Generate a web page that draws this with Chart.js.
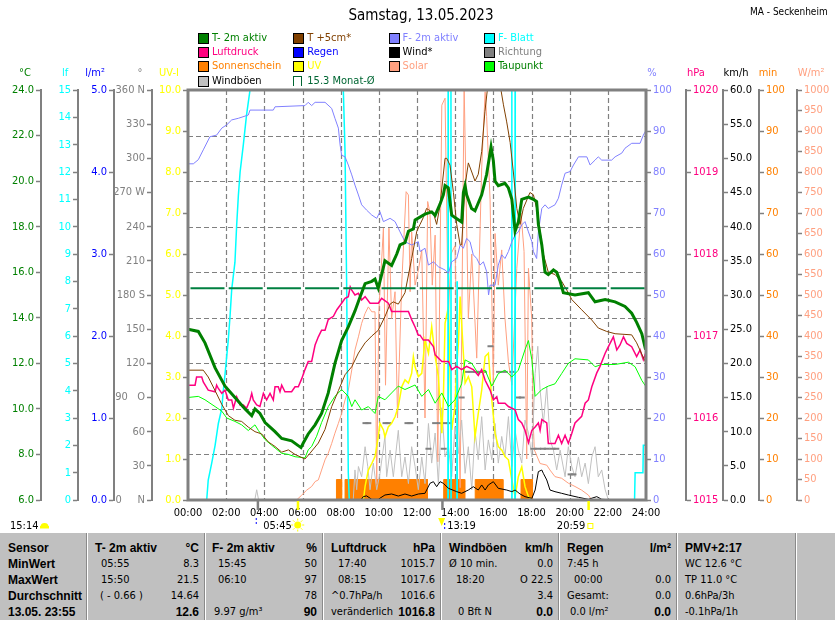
<!DOCTYPE html>
<html><head><meta charset="utf-8">
<title>Samstag, 13.05.2023</title>
<script src="https://cdn.jsdelivr.net/npm/chart.js@4.4.1/dist/chart.umd.min.js"></script>
<style>
html,body{margin:0;padding:0;background:#fff;}
body{width:835px;height:620px;position:relative;overflow:hidden;}
#c{position:absolute;left:0;top:0;}
.a{position:absolute;white-space:nowrap;line-height:14px;height:14px;}
.box{position:absolute;width:9px;height:9px;border:1px solid #000;}
#tbl{position:absolute;left:0;top:533px;width:835px;height:87px;background:#c0c0c0;}
.sep{position:absolute;top:0;height:87px;width:1px;background:#fff;border-left:1px solid #8a8a8a;}
</style></head><body>
<canvas id="c" width="835" height="533"></canvas>
<div id="ov"></div>
<div id="tbl"></div>
<script>
// ---------------- DATA (hour of day, value) ----------------
const xTickValues = [0,2,4,6,8,10,12,14,16,18,20,22,24];
const xTickLabels = ['00:00','02:00','04:00','06:00','08:00','10:00','12:00','14:00','16:00','18:00','20:00','22:00','24:00'];
const dirTickLabels = {0:'0     N',90:'90   O',180:'180 S',270:'270 W',360:'360 N'};

const t2m = [[0,13.5],[0.54,13.4],[0.89,12.9],[1.42,11.8],[1.94,11.0],[2.46,10.5],[2.99,10.0],[3.34,9.7],[3.51,10.0],[3.77,9.8],[4.04,9.4],[4.56,9.0],[4.91,8.7],[5.43,8.6],[5.92,8.3],[6.04,8.5],[6.3,8.9],[6.66,9.3],[7.0,9.8],[7.35,10.7],[7.7,12.0],[8.05,13.0],[8.4,13.6],[8.75,14.3],[9.01,14.9],[9.28,15.5],[9.63,15.6],[9.8,15.7],[9.97,15.3],[10.15,15.9],[10.32,16.5],[10.67,16.3],[10.94,16.8],[11.11,17.2],[11.37,17.3],[11.55,17.8],[11.81,17.9],[11.9,18.3],[12.42,18.55],[12.77,18.65],[12.95,18.5],[13.21,19.0],[13.38,19.4],[13.47,19.8],[13.64,19.7],[13.82,18.5],[13.99,18.4],[14.34,18.2],[14.43,19.5],[14.52,19.8],[14.6,19.4],[14.86,18.8],[15.04,18.7],[15.39,19.4],[15.65,20.3],[15.88,21.5],[16.0,20.9],[16.09,20.0],[16.26,19.8],[16.61,19.9],[16.79,19.7],[16.97,19.2],[17.14,17.8],[17.31,18.2],[17.49,19.2],[17.84,19.3],[18.1,19.2],[18.27,19.1],[18.36,18.1],[18.54,17.2],[18.71,16.0],[18.88,15.9],[19.15,16.1],[19.32,16.0],[19.5,15.6],[19.67,15.1],[20.28,15.0],[20.98,15.1],[21.33,14.7],[21.86,14.8],[22.38,14.7],[22.9,14.5],[23.25,14.2],[23.51,13.8],[23.78,13.3],[23.98,12.6]];

const t5cm = [[0,11.7],[0.8,11.7],[1.06,11.4],[1.42,10.8],[1.77,10.2],[2.12,9.7],[2.46,9.5],[2.81,9.45],[3.16,9.2],[3.51,9.0],[3.86,8.9],[4.21,8.55],[4.56,8.35],[4.91,8.1],[5.26,8.2],[5.61,8.0],[6.13,7.8],[6.39,8.05],[6.83,8.5],[7.18,9.1],[7.53,10.1],[7.88,10.8],[8.23,11.5],[8.58,11.85],[8.93,12.45],[9.28,12.9],[9.63,13.2],[9.97,13.45],[10.32,14.05],[10.59,14.6],[10.76,14.7],[11.02,14.6],[11.37,15.1],[11.72,16.6],[11.99,17.8],[12.16,18.1],[12.33,18.4],[12.5,18.8],[12.86,18.6],[13.03,18.1],[13.2,18.9],[13.47,21.0],[13.56,21.0],[13.73,20.7],[13.91,19.5],[14.08,18.1],[14.26,17.2],[14.34,17.2],[14.52,19.8],[14.69,20.8],[14.87,20.4],[15.04,20.0],[15.21,20.3],[15.39,21.3],[15.56,23.05],[15.75,24.5],[16.3,24.5],[16.53,23.35],[16.7,22.6],[16.88,21.7],[17.05,20.4],[17.23,18.8],[17.4,18.1],[17.57,18.8],[17.92,19.5],[18.1,19.4],[18.27,18.8],[18.45,17.8],[18.62,16.8],[18.88,16.0],[19.23,15.9],[19.58,15.6],[19.93,15.1],[20.11,14.8],[20.63,14.35],[21.16,13.9],[21.5,13.55],[21.94,13.4],[22.38,13.3],[23.25,13.25],[23.51,12.9],[23.78,12.4],[23.98,12.05]];

const dewPoint = [[0,10.5],[0.54,10.55],[0.89,10.4],[1.42,10.1],[1.77,9.9],[2.03,9.6],[2.46,9.45],[2.81,9.3],[3.16,9.05],[3.51,9.3],[3.69,9.05],[4.04,8.65],[4.39,8.4],[4.91,8.05],[5.26,8.0],[5.61,7.9],[6.13,7.85],[6.3,8.2],[6.48,8.35],[6.74,8.8],[7.0,9.4],[7.35,10.1],[7.7,10.55],[8.05,10.85],[8.4,10.55],[8.58,10.1],[8.75,10.4],[9.1,9.95],[9.45,10.1],[9.8,9.8],[9.97,10.55],[10.32,10.4],[10.67,10.7],[11.02,11.0],[11.37,10.85],[11.9,11.05],[12.25,10.55],[12.6,10.85],[12.95,10.25],[13.3,10.7],[13.65,10.1],[13.99,10.4],[14.34,11.1],[14.52,12.15],[14.87,12.0],[15.21,11.55],[15.57,11.7],[15.92,11.0],[16.26,11.55],[16.61,11.7],[16.97,11.4],[17.31,11.7],[17.66,12.6],[17.84,13.0],[18.02,12.15],[18.19,10.55],[18.54,10.85],[18.88,11.0],[19.23,11.1],[19.58,11.55],[19.93,12.0],[20.28,12.2],[20.98,12.15],[21.33,11.85],[21.68,11.95],[22.38,11.95],[23.08,12.05],[23.43,11.85],[23.78,11.25],[23.98,11.0]];

const humidity = [[0,82],[0.28,82],[0.54,83],[0.8,85.4],[1.15,88.6],[1.5,89],[1.77,90.7],[2.03,91.5],[2.29,92.7],[2.64,93.1],[3.16,93.9],[3.25,95.1],[4.47,95.1],[4.56,95.9],[6.13,96.2],[6.3,97],[6.48,96.2],[6.66,97],[7.18,97],[7.53,95.5],[7.7,93.1],[7.88,90.7],[7.97,86.6],[8.05,84.1],[8.23,83.7],[8.4,81.7],[8.58,79.3],[8.75,76.8],[8.93,74.4],[9.1,72],[9.36,70.7],[9.63,69.5],[9.89,68.7],[10.06,70.3],[10.24,67.9],[10.59,68.7],[10.85,67.9],[11.11,65.4],[11.37,63],[11.72,62.2],[12.07,63],[12.16,60.6],[12.42,61.4],[12.6,57.3],[12.86,58.1],[13.12,56.9],[13.47,56.1],[13.65,55.3],[13.82,58.1],[14.08,58.9],[14.26,62.2],[14.43,61.4],[14.6,63.8],[14.78,63],[14.95,59.8],[15.13,58.9],[15.3,57.3],[15.48,58.1],[15.65,55.7],[15.75,50],[15.83,52.4],[16.09,52.4],[16.26,57.3],[16.44,59.8],[16.61,58.9],[16.79,60.6],[16.97,63],[17.14,64.6],[17.31,65.4],[17.49,67.1],[17.66,67.9],[17.84,65.4],[18.02,63],[18.1,60.6],[18.27,58.9],[18.36,65.4],[18.54,71.1],[18.71,72],[18.88,71.1],[19.23,72],[19.41,73.6],[19.58,76.8],[19.76,79.7],[20.02,80.1],[20.2,81.7],[20.46,83.7],[20.9,83.7],[21.07,81.7],[21.33,82.9],[21.5,83.7],[21.68,82.9],[22.2,82.9],[22.38,83.7],[22.73,84.6],[22.9,85.8],[23.25,87],[23.69,87],[23.86,89],[23.98,90]];

const leafWet = [[0,0],[0.98,0],[1.06,0.73],[1.24,1.34],[1.42,2.0],[1.59,2.8],[1.77,3.35],[1.85,4.0],[1.94,4.6],[2.11,5.85],[2.2,6.7],[2.29,7.7],[2.46,8.7],[2.55,10.05],[2.64,11.15],[2.73,12.0],[2.9,13.0],[3.07,14.1],[3.25,15],[8.14,15],[8.23,12.7],[8.31,8.1],[8.4,1.0],[8.45,0],[13.62,0],[13.63,15],[13.64,0],[13.77,0],[13.78,15],[13.79,0],[14.09,0],[14.1,8],[14.11,0],[16.96,0],[16.97,15],[16.98,0],[17.13,0],[17.14,15],[17.15,0],[23.4,0],[23.43,1.0],[23.84,1.0],[23.86,2.0],[24,2.0]];

const pressure = [[0,1016.4],[0.37,1016.4],[0.45,1016.5],[0.72,1016.5],[0.8,1016.44],[1.06,1016.34],[1.42,1016.32],[1.5,1016.4],[1.59,1016.36],[1.77,1016.3],[1.94,1016.34],[2.11,1016.22],[2.29,1016.22],[2.38,1016.12],[2.55,1016.26],[2.73,1016.16],[2.9,1016.16],[3.07,1016.12],[3.25,1016.22],[3.34,1016.3],[3.42,1016.22],[3.6,1016.16],[3.77,1016.14],[3.95,1016.3],[4.12,1016.22],[4.3,1016.3],[4.47,1016.22],[4.56,1016.38],[4.73,1016.38],[4.82,1016.32],[4.91,1016.4],[5.08,1016.32],[5.43,1016.32],[5.61,1016.38],[5.78,1016.38],[5.96,1016.48],[6.13,1016.59],[6.3,1016.69],[6.48,1016.69],[6.66,1016.89],[6.83,1016.99],[7.0,1017.07],[7.18,1017.07],[7.35,1017.2],[7.62,1017.24],[7.8,1017.32],[8.05,1017.4],[8.23,1017.46],[8.4,1017.48],[8.5,1017.6],[8.58,1017.56],[8.75,1017.5],[8.93,1017.52],[9.1,1017.44],[9.28,1017.48],[9.54,1017.4],[9.97,1017.4],[10.15,1017.46],[10.5,1017.4],[10.67,1017.3],[11.55,1017.3],[11.72,1017.2],[11.9,1017.11],[12.07,1017.01],[12.16,1017.01],[12.33,1016.95],[12.6,1016.95],[12.86,1016.87],[12.95,1016.77],[13.3,1016.69],[13.65,1016.69],[13.82,1016.59],[14.08,1016.63],[14.34,1016.59],[14.6,1016.63],[14.95,1016.59],[15.21,1016.52],[15.39,1016.59],[15.57,1016.46],[15.83,1016.34],[16.0,1016.22],[16.18,1016.26],[16.26,1016.18],[16.61,1016.18],[16.79,1016.14],[17.14,1016.1],[17.31,1015.98],[17.49,1015.94],[17.66,1015.85],[17.84,1015.7],[18.02,1015.85],[18.19,1015.89],[18.36,1015.94],[18.45,1015.85],[18.54,1015.98],[18.8,1015.94],[18.88,1015.69],[19.23,1015.69],[19.41,1015.79],[19.58,1015.69],[19.76,1015.79],[19.93,1015.69],[20.11,1015.81],[20.28,1015.94],[20.63,1016.02],[20.81,1016.18],[20.98,1016.22],[21.16,1016.38],[21.42,1016.55],[21.59,1016.63],[21.86,1016.79],[22.03,1016.87],[22.29,1016.99],[22.47,1016.83],[22.64,1016.89],[22.82,1016.99],[22.99,1016.91],[23.25,1016.87],[23.51,1016.75],[23.69,1016.83],[23.86,1016.71],[23.98,1016.79]];

const wind = [[0,0],[9.05,0],[9.19,0.5],[9.36,0.6],[9.63,0.1],[9.97,0.1],[10.32,0.73],[10.67,0.88],[11.02,0.58],[11.37,0.88],[11.72,0.58],[12.07,0.88],[12.42,0.98],[12.68,2.44],[12.86,2.68],[13.03,1.95],[13.21,2.68],[13.38,2.44],[13.65,1.71],[14.08,1.22],[14.34,0.98],[14.69,1.46],[14.95,1.95],[15.21,1.46],[15.39,2.2],[15.57,1.46],[15.74,2.2],[16.0,2.68],[16.26,1.71],[16.7,1.46],[16.97,1.22],[17.14,1.46],[17.4,0.88],[17.66,0.49],[18.02,0.24],[18.19,1.46],[18.36,4.15],[18.54,4.39],[18.62,3.9],[18.8,2.93],[18.97,1.46],[19.23,1.22],[19.58,0.98],[19.93,0.73],[20.46,0.39],[20.98,0.1],[21.42,0.49],[21.68,0.1],[22.38,0],[24,0]];

const gusts = [[0,0],[3.5,0],[3.6,1.5],[3.7,0],[8.66,0],[8.75,4.4],[8.84,1.5],[8.93,4.9],[9.1,3.4],[9.28,7.8],[9.42,4.9],[9.54,1.5],[9.71,5.4],[9.89,1.5],[10.06,3.9],[10.32,9.3],[10.41,3.4],[10.59,7.3],[10.76,3.4],[11.02,10.2],[11.2,3.4],[11.37,6.3],[11.55,2.4],[11.72,7.8],[11.9,4.9],[12.07,1.5],[12.25,6.3],[12.42,2.4],[12.6,11.2],[12.77,5.4],[12.95,9.8],[13.12,2.4],[13.3,13.5],[13.47,6.3],[13.65,7.8],[13.82,3.4],[13.99,10.7],[14.17,6.8],[14.34,11.7],[14.52,3.9],[14.69,7.8],[14.87,1.5],[15.04,10.2],[15.21,5.9],[15.39,12.2],[15.57,4.4],[15.74,8.8],[15.92,5.9],[16.09,11.2],[16.26,5.4],[16.44,9.3],[16.61,6.3],[16.79,12.2],[16.97,4.9],[17.14,10.2],[17.31,7.3],[17.49,5.4],[17.66,11.7],[17.84,9.8],[18.02,6.3],[18.19,18.5],[18.33,22.5],[18.45,16.1],[18.62,11.2],[18.8,16.6],[18.97,8.8],[19.15,7.3],[19.32,4.4],[19.5,7.3],[19.76,3.4],[19.93,7.8],[20.11,4.9],[20.28,3.4],[20.46,6.3],[20.63,3.4],[20.81,5.4],[20.98,2.4],[21.16,6.3],[21.33,7.8],[21.5,3.4],[21.68,4.4],[21.86,1.5],[22.03,0],[24,0]];

const windDir = [[9.3,67.5],[9.45,67.5],[10.35,67.5],[10.5,67.5],[11.5,67.5],[11.65,67.5],[12.6,45],[12.95,67.5],[13.2,67.5],[13.4,45],[13.5,67.5],[13.7,67.5],[14.34,90],[14.6,112.5],[14.85,112.5],[15.1,112.5],[15.3,112.5],[15.5,112.5],[15.85,135],[16.3,112.5],[16.6,112.5],[17.0,112.5],[17.3,90],[17.49,90],[18.1,45],[18.35,45],[18.6,45],[18.8,45],[19.1,45],[19.3,45],[20.05,22.5],[20.2,22.5]];

const solar = [[0,0],[5.69,0],[5.96,12],[6.22,24],[6.48,33],[6.66,45],[6.83,49],[7.0,73],[7.18,98],[7.35,114],[7.53,138],[7.7,163],[7.88,187],[8.05,211],[8.23,244],[8.4,268],[8.58,317],[8.75,366],[8.93,398],[9.1,431],[9.28,455],[9.45,471],[9.63,459],[9.8,459],[9.89,40],[10.0,460],[10.24,663],[10.35,280],[10.53,663],[10.67,443],[10.85,508],[10.98,200],[11.2,527],[11.43,752],[11.55,744],[11.64,508],[11.72,654],[11.9,524],[12.07,560],[12.25,610],[12.42,200],[12.56,728],[12.68,700],[12.8,524],[12.95,646],[13.09,93],[13.3,963],[13.47,980],[13.64,443],[13.78,600],[13.99,620],[14.26,30],[14.47,1010],[14.69,443],[14.87,600],[15.13,346],[15.39,810],[15.57,996],[15.65,935],[15.83,732],[16.0,280],[16.09,650],[16.26,524],[16.44,610],[16.61,443],[16.79,337],[16.97,280],[17.23,565],[17.45,700],[17.61,606],[17.75,100],[17.84,565],[18.01,443],[18.1,175],[18.15,122],[18.45,89],[18.8,85],[18.97,73],[19.23,57],[19.58,53],[19.93,41],[20.28,33],[20.63,24],[20.98,12],[21.16,0],[24,0]];

const uvIndex = [[0,0],[9.19,0],[9.28,0.33],[9.45,0.73],[9.63,0.89],[9.8,1.06],[9.97,1.54],[10.06,1.87],[10.24,1.71],[10.32,1.54],[10.5,1.79],[10.67,1.87],[10.85,2.03],[11.02,2.28],[11.2,2.76],[11.37,2.93],[11.55,2.85],[11.72,3.09],[11.81,3.5],[11.9,3.25],[12.07,3.01],[12.25,3.09],[12.42,3.9],[12.6,3.58],[12.77,4.23],[12.95,3.5],[13.12,3.01],[13.3,1.63],[13.38,2.44],[13.47,4.31],[13.65,4.72],[13.73,3.01],[13.82,1.71],[13.99,2.28],[14.08,3.25],[14.17,3.82],[14.26,4.96],[14.34,4.31],[14.52,2.85],[14.69,3.01],[14.87,2.76],[15.04,1.54],[15.21,2.11],[15.39,2.68],[15.57,3.5],[15.74,3.58],[15.92,2.44],[16.09,1.63],[16.26,1.3],[16.44,1.22],[16.61,1.06],[16.79,0.98],[16.97,0.49],[17.14,0.08],[17.31,0.57],[17.49,0.81],[17.66,0.33],[17.84,0.08],[18.0,0],[24,0]];

// sunshine minutes per 5-minute interval: [start hour, end hour, minutes]
const sunshine = [[7.78,8.05,5],[8.23,12.55,5],[13.4,14.5,5],[15.05,16.5,5],[17.45,18.05,5]];
const rain = [[0,0],[24,0]];
const monthAvg = [[0,15.3],[24,15.3]];

// markers below the time axis
const axisMarks = [[3.65,'#808080'],[5.75,'#ffff00'],[13.32,'#808080'],[20.98,'#ffff00']];
const sunEvents = [[5.75,'05:45','rise'],[13.32,'13:19','noon'],[20.98,'20:59','set']];
const dayLength = '15:14';

// ---------------- FONTS ----------------
function hasFont(f){const c=document.createElement('canvas').getContext('2d');const s='abcdefghijklmnopqrstuvwxyz0123456789WM';c.font='40px monospace';const w=c.measureText(s).width;c.font='40px "'+f+'",monospace';return Math.abs(c.measureText(s).width-w)>1;}
let FF,FS,FT,FL,FSS;
if(hasFont('Liberation Sans Narrow')){FF='"Liberation Sans Narrow"';FS=13;FT=18;FL=13;FSS=12.5;}
else if(hasFont('DejaVu Sans Condensed')){FF='"DejaVu Sans Condensed"';FS=11;FT=15;FL=11;FSS=11;}
else{FF='"Liberation Sans",Arial';FS=11;FT=15;FL=11;FSS=11;}
const FB='"Liberation Sans",Arial,sans-serif';

// ---------------- HTML TEXT ----------------
const ov=document.getElementById('ov');
function txt(parent,s,x,y,opt){const d=document.createElement('div');d.className='a';d.textContent=s;d.style.top=(y-7)+'px';
  d.style.fontFamily=opt.fam||FF;d.style.fontSize=(opt.size||FL)+'px';d.style.color=opt.color||'#000';
  if(opt.bold)d.style.fontWeight='bold';
  if(opt.align==='r'){d.style.right=(835-x)+'px';}else if(opt.align==='c'){d.style.left=x+'px';d.style.transform='translateX(-50%)';}else{d.style.left=x+'px';}
  parent.appendChild(d);return d;}
txt(ov,'Samstag, 13.05.2023',421,15,{size:FT,align:'c'}).style.lineHeight='14px';
txt(ov,'MA - Seckenheim',750,12,{size:FL-1});

const legendItems=[['T- 2m aktiv','#008000','#008000'],['T +5cm*','#804000','#804000'],['F- 2m aktiv','#8080ff','#8080ff'],['F- Blatt','#00ffff','#00ffff'],
 ['Luftdruck','#ff0080','#ff0080'],['Regen','#0000ff','#0000ff'],['Wind*','#000000','#000000'],['Richtung','#808080','#808080'],
 ['Sonnenschein','#ff8000','#ff8000'],['UV','#ffff00','#ffff00'],['Solar','#ffa080','#ffa080'],['Taupunkt','#00ff00','#008000'],
 ['Windböen','#c0c0c0','#000000'],['15.3 Monat-Ø',null,'#006633']];
legendItems.forEach((it,i)=>{const col=i%4,row=Math.floor(i/4);const bx=198+col*95.3,cy=38+row*14.2;
  const b=document.createElement('div');b.className='box';b.style.left=bx+'px';b.style.top=(cy-5)+'px';
  if(it[1]){b.style.background=it[1];}else{b.style.border='none';b.style.borderTop='1px solid #006633';b.style.borderLeft='1px solid #006633';b.style.borderRight='1px solid #006633';b.style.width='7px';}
  ov.appendChild(b);txt(ov,it[0],bx+14,cy,{color:it[2]});});

const units=[['°C',25,'#008000'],['lf',65,'#00ffff'],['l/m²',95,'#0000ff'],['°',140,'#808080'],['UV-I',169,'#ffff00'],['%',652,'#8080ff'],['hPa',696,'#ff0080'],['km/h',736,'#000000'],['min',768,'#ff8000'],['W/m²',811,'#ffa080']];
units.forEach(u=>txt(ov,u[0],u[1],73,{color:u[2],align:'c'}));

// table
const tbl=document.getElementById('tbl');
const tblSep=[87,205,323,441,559,677,796];
tblSep.forEach(x=>{const s=document.createElement('div');s.className='sep';s.style.left=(x-1)+'px';tbl.appendChild(s);});
const tblRowY=[15,31,47,63,79];
const cells=[['Sensor',8,0,'l',1],['MinWert',8,1,'l',1],['MaxWert',8,2,'l',1],['Durchschnitt',8,3,'l',1],['13.05. 23:55',8,4,'l',1],
 ['T- 2m aktiv',95,0,'l',1],['°C',199,0,'r',1],['05:55',101,1,'l',0],['8.3',199,1,'r',0],['15:50',101,2,'l',0],['21.5',199,2,'r',0],['( - 0.66 )',100,3,'l',0],['14.64',199,3,'r',0],['12.6',199,4,'r',1],
 ['F- 2m aktiv',212,0,'l',1],['%',317,0,'r',1],['15:45',218,1,'l',0],['50',317,1,'r',0],['06:10',218,2,'l',0],['97',317,2,'r',0],['78',317,3,'r',0],['9.97 g/m³',214,4,'l',0],['90',317,4,'r',1],
 ['Luftdruck',331,0,'l',1],['hPa',435,0,'r',1],['17:40',338,1,'l',0],['1015.7',435,1,'r',0],['08:15',338,2,'l',0],['1017.6',435,2,'r',0],['^0.7hPa/h',331,3,'l',0],['1016.6',435,3,'r',0],['veränderlich',331,4,'l',0],['1016.8',435,4,'r',1],
 ['Windböen',449,0,'l',1],['km/h',553,0,'r',1],['Ø 10 min.',449,1,'l',0],['0.0',553,1,'r',0],['18:20',456,2,'l',0],['O 22.5',553,2,'r',0],['3.4',553,3,'r',0],['0 Bft N',458,4,'l',0],['0.0',553,4,'r',1],
 ['Regen',567,0,'l',1],['l/m²',671,0,'r',1],['7:45 h',567,1,'l',0],['00:00',574,2,'l',0],['0.0',671,2,'r',0],['Gesamt:',567,3,'l',0],['0.0',671,3,'r',0],['0.0 l/m²',570,4,'l',0],['0.0',671,4,'r',1],
 ['PMV+2:17',685,0,'l',1],['WC 12.6 °C',685,1,'l',0],['TP 11.0 °C',685,2,'l',0],['0.6hPa/3h',685,3,'l',0],['-0.1hPa/1h',685,4,'l',0]];
cells.forEach(c=>txt(tbl,c[0],c[1],tblRowY[c[2]],{align:c[3],bold:c[4],fam:c[4]?FB:FF,size:c[4]?12:FSS}));

// ---------------- CHART ----------------
const P=a=>a.map(([x,y])=>({x,y}));
function sunSteps(){const pts=[{x:0,y:0}];sunshine.forEach(([a,b,m])=>{pts.push({x:a,y:0},{x:a,y:m},{x:b,y:m},{x:b,y:0});});pts.push({x:24,y:0});return pts;}
function range(a,b,s){const r=[];for(let v=a;v<=b+1e-9;v+=s)r.push(+v.toFixed(4));return r;}
function yAxis(pos,min,max,step,color,width,weight,fmt){
  return {type:'linear',position:pos,min,max,weight,
    afterBuildTicks:s=>{s.ticks=range(min,max,step).map(v=>({value:v}));},
    afterFit:s=>{s.width=width;},
    ticks:{color,autoSkip:false,padding:2,callback:fmt,font:{size:FS,family:FF}},
    grid:{drawOnChartArea:false,drawTicks:true,tickLength:5,tickColor:'#808080',tickWidth:1.5},
    border:{display:true,color:'#808080',width:2}};
}
const L=(label,data,color,axis,extra)=>Object.assign({label,data:P(data),borderColor:color,backgroundColor:color,yAxisID:axis,borderWidth:1,pointRadius:0,fill:false,tension:0},extra||{});

const gridPlugin={id:'wxgrid',
  beforeDatasetsDraw(chart){const {ctx,chartArea:a,scales}=chart;ctx.save();ctx.strokeStyle='#808080';ctx.lineWidth=1.2;ctx.setLineDash([5,3]);
    scales.x.ticks.forEach(t=>{if(t.value<=0||t.value>=24)return;const x=Math.round(scales.x.getPixelForValue(t.value))+0.5;ctx.beginPath();ctx.moveTo(x,a.top);ctx.lineTo(x,a.bottom);ctx.stroke();});
    scales.yT.ticks.forEach(t=>{if(t.value<=6||t.value>=24)return;const y=Math.round(scales.yT.getPixelForValue(t.value))+0.5;ctx.beginPath();ctx.moveTo(a.left,y);ctx.lineTo(a.right,y);ctx.stroke();});
    ctx.restore();},
  afterDatasetsDraw(chart){const {ctx,chartArea:a}=chart;ctx.save();ctx.strokeStyle='#808080';ctx.lineWidth=3;ctx.strokeRect(a.left,a.top,a.right-a.left,a.bottom-a.top);ctx.restore();},
  afterDraw(chart){const {ctx,chartArea:a,scales:{x}}=chart;ctx.save();
    axisMarks.forEach(([t,c])=>{const px=x.getPixelForValue(t);ctx.fillStyle=c;ctx.fillRect(px-1,a.bottom+1,2.5,9);});
    ctx.font=FS+'px '+FF;ctx.fillStyle='#000';ctx.textBaseline='middle';
    const yy=a.bottom+26;
    sunEvents.forEach(([t,lab,kind])=>{const px=x.getPixelForValue(t);
      if(kind==='rise'){ctx.fillStyle='#000';ctx.textAlign='right';ctx.fillText(lab,px-6,yy);
        ctx.fillStyle='#ffff00';ctx.beginPath();ctx.arc(px,yy-1,3.5,0,Math.PI*2);ctx.fill();ctx.strokeStyle='#ffff00';ctx.lineWidth=1;
        for(let k=0;k<8;k++){const an=k*Math.PI/4;ctx.beginPath();ctx.moveTo(px+Math.cos(an)*4.5,yy-1+Math.sin(an)*4.5);ctx.lineTo(px+Math.cos(an)*6.5,yy-1+Math.sin(an)*6.5);ctx.stroke();}
        ctx.fillStyle='#0000ff';ctx.fillRect(x.getPixelForValue(3.55),yy-8,1,2);ctx.fillRect(x.getPixelForValue(3.55),yy-4,1,2);}
      else if(kind==='noon'){ctx.fillStyle='#ffff00';ctx.beginPath();ctx.moveTo(px-4,yy-8);ctx.lineTo(px+3,yy-8);ctx.lineTo(px-0.5,yy);ctx.closePath();ctx.fill();
        ctx.fillStyle='#0000ff';ctx.fillRect(px+2,yy-3,1,2);ctx.fillRect(px+2,yy+1,1,2);
        ctx.fillStyle='#000';ctx.textAlign='left';ctx.fillText(lab,px+5,yy);}
      else{ctx.fillStyle='#000';ctx.textAlign='right';ctx.fillText(lab,px-3,yy);ctx.strokeStyle='#ffff00';ctx.lineWidth=1;ctx.strokeRect(px-0.5,yy-2.5,5,5);}
    });
    ctx.fillStyle='#000';ctx.textAlign='left';ctx.fillText(dayLength,10,yy);
    ctx.fillStyle='#ffff00';ctx.beginPath();ctx.arc(44.5,yy+1,4,Math.PI,0);ctx.fill();ctx.fillRect(40,yy,9,2.5);
    ctx.restore();}
};

new Chart(document.getElementById('c'),{
  type:'line',
  data:{datasets:[
    L('T- 2m aktiv',t2m,'#008000','yT',{borderWidth:3}),
    L('15.3 Monat-Ø',monthAvg,'#008040','yT',{borderWidth:2,borderDash:[34,4.2],borderDashOffset:-2.5}),
    L('T +5cm*',t5cm,'#804000','yT'),
    L('Luftdruck',pressure,'#ff0080','yP',{borderWidth:1.5}),
    L('Taupunkt',dewPoint,'#00ff00','yT'),
    L('F- 2m aktiv',humidity,'#8080ff','yH'),
    L('Wind*',wind,'#000000','yW'),
    L('F- Blatt',leafWet,'#00ffff','yLf',{borderWidth:1.5}),
    L('UV',uvIndex,'#ffff00','yUV',{borderWidth:1.5}),
    L('Richtung',windDir,'#808080','yDir',{showLine:false,pointStyle:'line',pointRadius:3,pointBorderWidth:2,pointBorderColor:'#808080'}),
    L('Windböen',gusts,'#c0c0c0','yW'),
    L('Solar',solar,'#ffa080','yR'),
    {label:'Sonnenschein',data:sunSteps(),borderColor:'#ff8000',backgroundColor:'#ff8000',yAxisID:'ySun',borderWidth:1,pointRadius:0,fill:'origin',tension:0},
    L('Regen',rain,'#0000ff','yRain')
  ]},
  options:{responsive:false,animation:false,events:[],
    layout:{padding:{top:90,left:0,right:0,bottom:0}},
    plugins:{legend:{display:false},tooltip:{enabled:false},title:{display:false}},
    scales:{
      x:{type:'linear',min:0,max:24,
        afterBuildTicks:s=>{s.ticks=xTickValues.map(v=>({value:v}));},
        afterFit:s=>{s.height=33;},
        ticks:{autoSkip:false,maxRotation:0,padding:7,color:'#000',font:{size:FS,family:FF},callback:(v,i)=>xTickLabels[i]},
        grid:{drawOnChartArea:false,drawTicks:false},border:{display:false}},
      yT:yAxis('left',6,24,2,'#008000',41,5,v=>v.toFixed(1)),
      yLf:yAxis('left',0,15,1,'#00ffff',37,4,v=>String(v)),
      yRain:yAxis('left',0,5,1,'#0000ff',36,3,v=>v.toFixed(1)),
      yDir:yAxis('left',0,360,30,'#808080',38,2,v=>dirTickLabels[v]||String(v)),
      yUV:yAxis('left',0,10,1,'#ffff00',36,1,v=>v.toFixed(1)),
      yH:yAxis('right',0,100,10,'#8080ff',40,1,v=>String(v)),
      yP:yAxis('right',1015,1020,1,'#ff0080',37,2,v=>String(v)),
      yW:yAxis('right',0,60,5,'#000000',36,3,v=>v.toFixed(1)),
      ySun:yAxis('right',0,100,10,'#ff8000',38,4,v=>String(v)),
      yR:yAxis('right',0,1000,50,'#ffa080',38,5,v=>String(v))
    }},
  plugins:[gridPlugin]
});
</script></body></html>
